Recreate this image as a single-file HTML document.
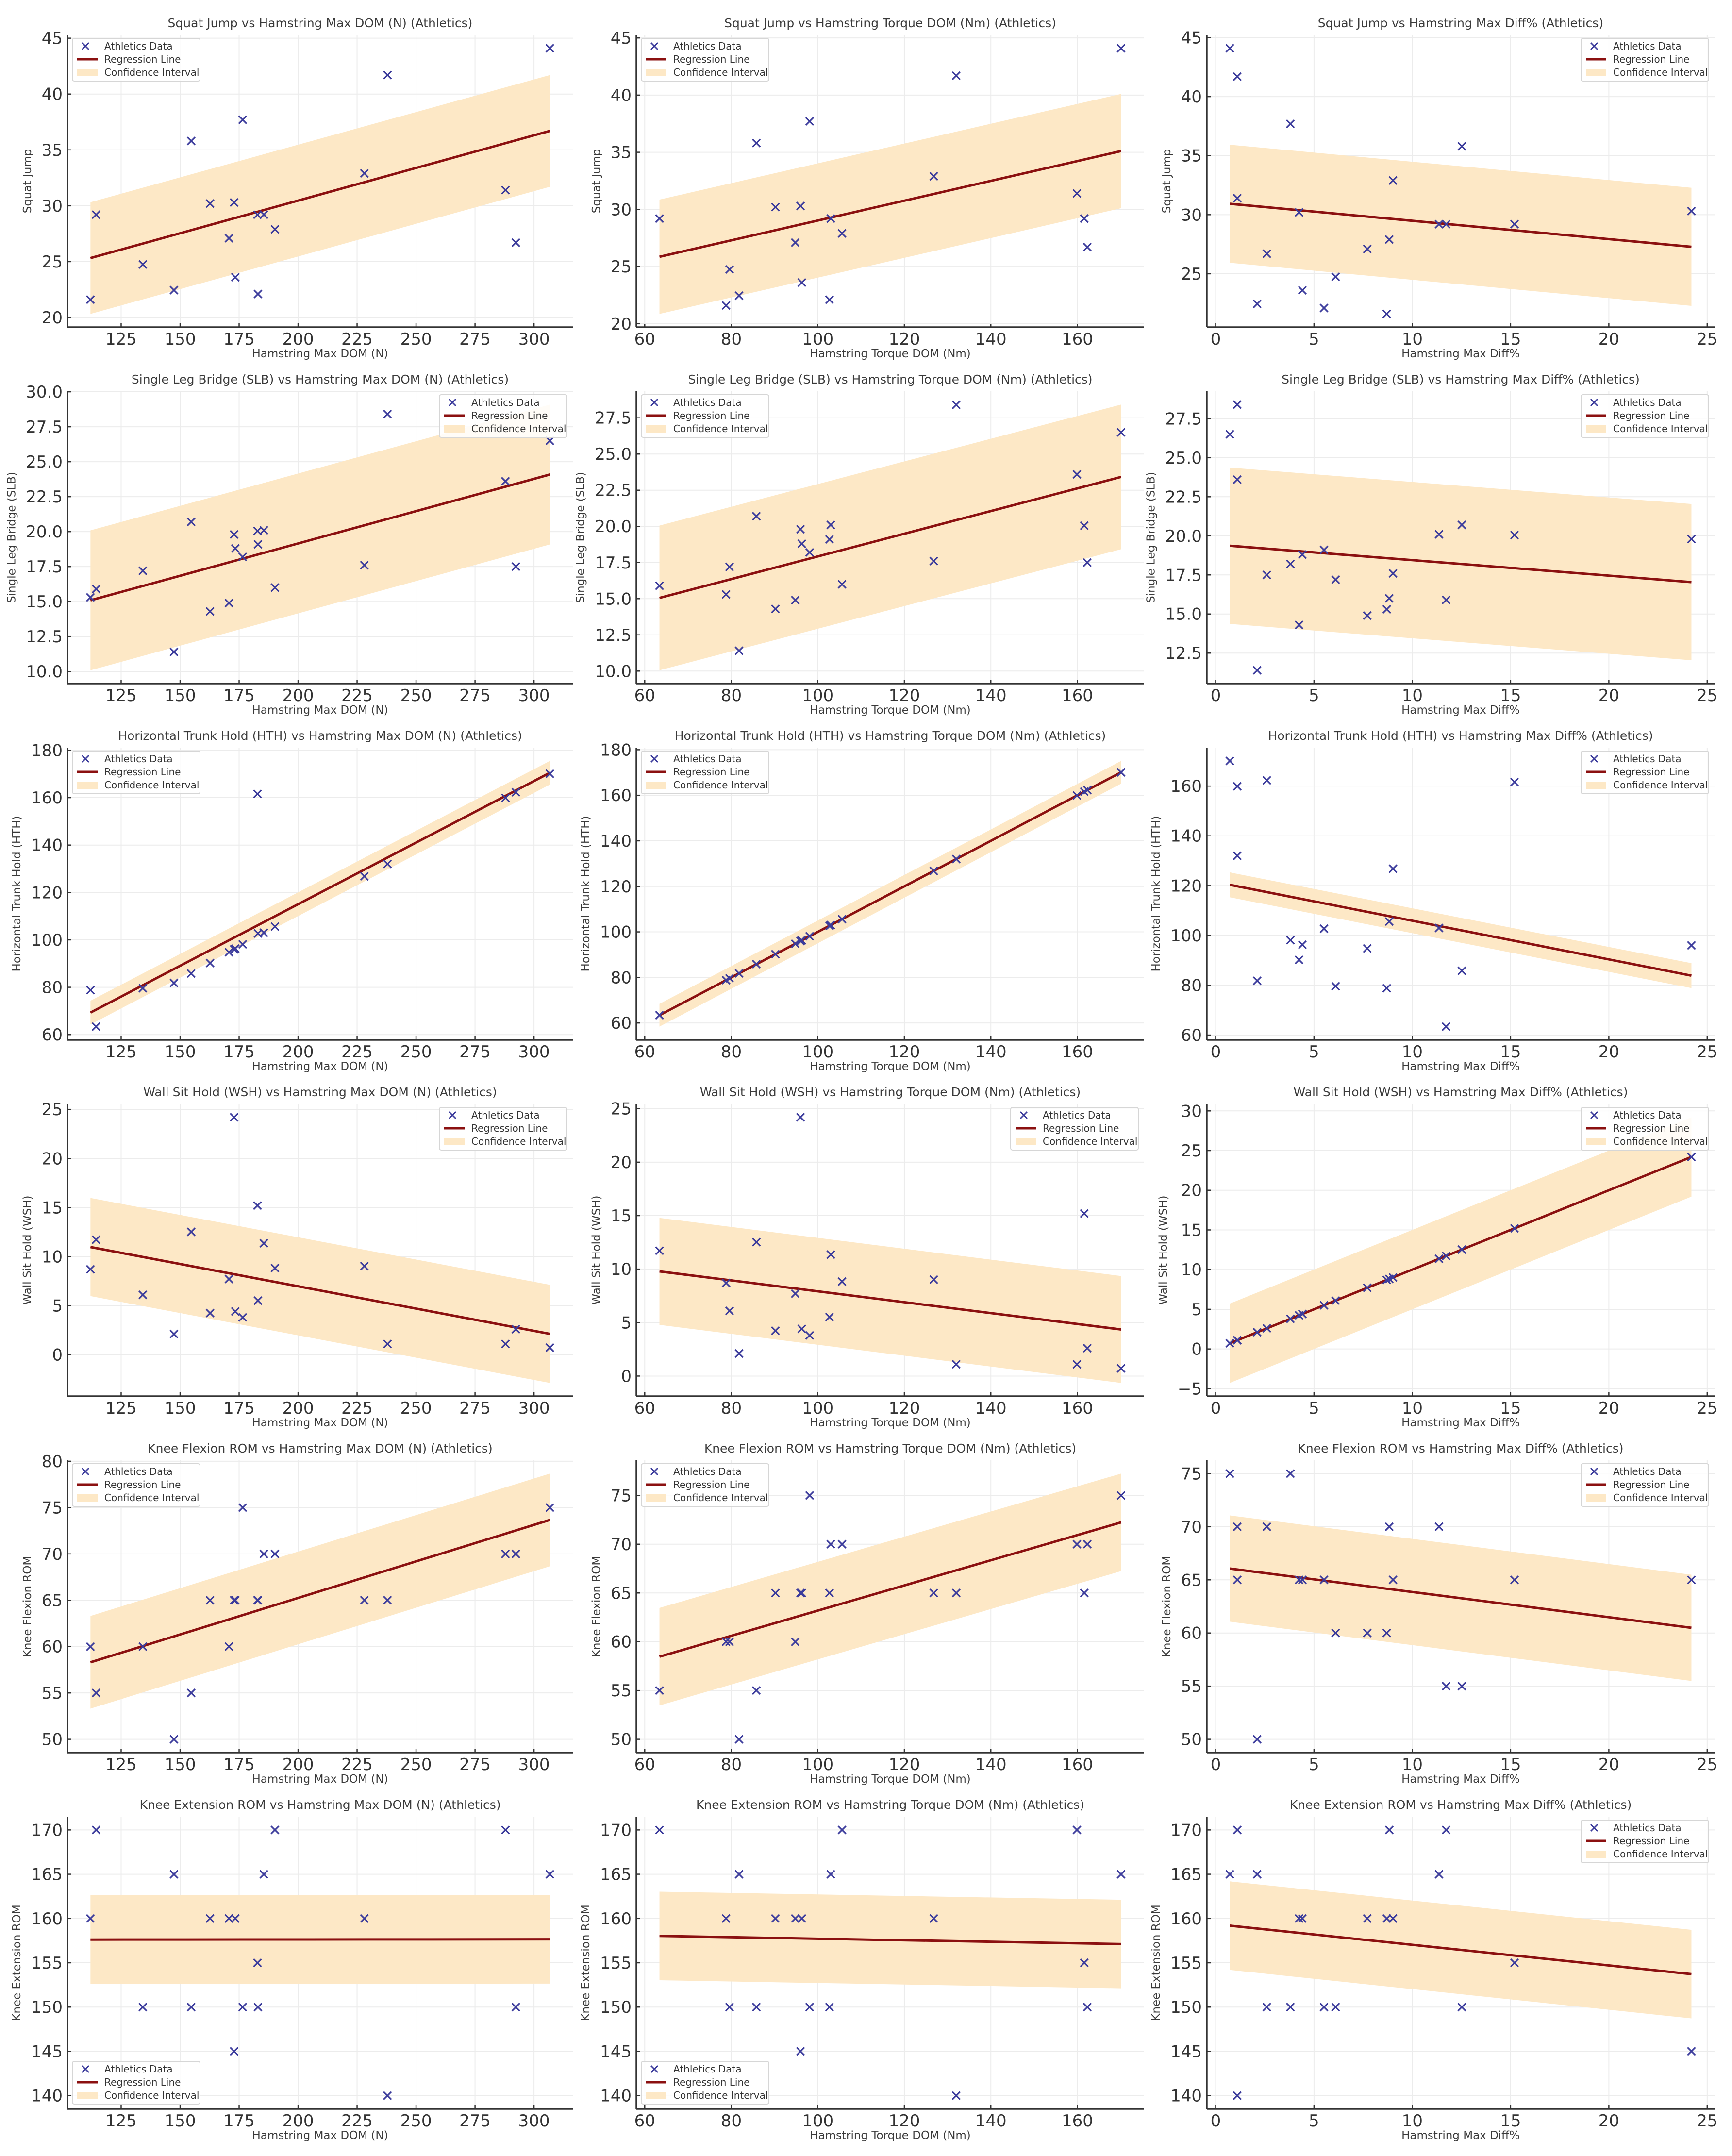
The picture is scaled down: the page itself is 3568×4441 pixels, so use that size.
<!DOCTYPE html>
<html><head><meta charset="utf-8"><title>Athletics regression grid</title>
<style>
html,body{margin:0;padding:0;background:#fff;}
svg{display:block;font-family:"DejaVu Sans","Liberation Sans",sans-serif;}
</style></head>
<body>
<svg id="fig" width="3568" height="4441" viewBox="0 0 3568 4441" xmlns="http://www.w3.org/2000/svg"></svg>
<script>
// ---- data (per athlete) ----
const hamMaxDom = [112.0,114.4,134.2,147.4,154.7,162.7,170.7,172.9,173.4,176.5,182.8,183.0,185.5,190.2,228.1,237.9,287.9,292.3,306.7];
const hamTorqueDom = [78.8,63.4,79.6,81.8,85.8,90.2,94.8,96.0,96.3,98.1,161.6,102.7,103.0,105.6,126.8,132.0,159.9,162.3,170.1];
const hamMaxDiff = [8.70,11.72,6.10,2.11,12.52,4.24,7.71,24.2,4.41,3.80,15.2,5.51,11.36,8.83,9.02,1.10,1.10,2.60,0.72];
const squatJump = [21.6,29.2,24.75,22.45,35.8,30.2,27.1,30.3,23.6,37.7,29.2,22.1,29.2,27.9,32.9,41.7,31.4,26.7,44.1];
const singleLegBridge = [15.3,15.9,17.2,11.4,20.7,14.3,14.9,19.8,18.8,18.2,20.05,19.1,20.1,16.0,17.6,28.4,23.6,17.5,26.5];
const trunkHold = [78.8,63.4,79.6,81.8,85.8,90.2,94.8,96.0,96.3,98.1,161.6,102.7,103.0,105.6,126.8,132.0,159.9,162.3,170.1];
const wallSit = [8.70,11.72,6.10,2.11,12.52,4.24,7.71,24.2,4.41,3.80,15.2,5.51,11.36,8.83,9.02,1.10,1.10,2.60,0.72];
const kneeFlexion = [60,55,60,50,55,65,60,65,65,75,65,65,70,70,65,65,70,70,75];
const kneeExtension = [160,170,150,165,150,160,160,145,160,150,155,150,165,170,160,140,170,150,165];

const xNames = ["Hamstring Max DOM (N)","Hamstring Torque DOM (Nm)","Hamstring Max Diff%"];
const xTitleNames = ["Hamstring Max DOM (N)","Hamstring Torque DOM (Nm)","Hamstring Max Diff% "];
const yNames = ["Squat Jump","Single Leg Bridge (SLB)","Horizontal Trunk Hold (HTH)","Wall Sit Hold (WSH)","Knee Flexion ROM","Knee Extension ROM"];
const xSteps = [25,20,5];
const ySteps = [5,2.5,20,5,5,5];
const ciHalf = [5,5,5,5,5,5];
const legendLocs = [
  ["ul","ul","ur"],["ur","ul","ur"],["ul","ul","ur"],
  ["ur","ur","ur"],["ul","ul","ur"],["ll","ll","ur"]];

const xData = [hamMaxDom, hamTorqueDom, hamMaxDiff];
const yData = [squatJump, singleLegBridge, trunkHold, wallSit, kneeFlexion, kneeExtension];

// ---- layout ----
const NS = "http://www.w3.org/2000/svg";
const svg = document.getElementById("fig");
const spineL = [139, 1311, 2486];
const spineR = [1180, 2357, 3532];
const rowPitch = 734;
function mk(tag, attrs, parent){
  const e = document.createElementNS(NS, tag);
  for (const k in attrs) e.setAttribute(k, attrs[k]);
  (parent||svg).appendChild(e);
  return e;
}
function fmt(v, step){
  const d = step % 1 !== 0 ? 1 : 0;
  let s = v.toFixed(d);
  if (v < 0) s = "\u2212" + Math.abs(v).toFixed(d);
  return s;
}
function textW(s, fs){
  let w = 0;
  for (const ch of s) w += (ch === "." ? 0.318 : ch === "\u2212" ? 0.838 : 0.636) * fs;
  return w;
}

for (let r = 0; r < 6; r++) {
  for (let c = 0; c < 3; c++) {
    const xs = xData[c], ys = yData[r];
    const g = mk("g", {});
    
    
    const L = spineL[c], R = spineR[c];
    const T = r * rowPitch + 72, B = r * rowPitch + 674;

    // regression
    const n = xs.length;
    let mx = 0, my = 0;
    for (let i = 0; i < n; i++) { mx += xs[i]; my += ys[i]; }
    mx /= n; my /= n;
    let sxy = 0, sxx = 0;
    for (let i = 0; i < n; i++) { sxy += (xs[i]-mx)*(ys[i]-my); sxx += (xs[i]-mx)*(xs[i]-mx); }
    const slope = sxy / sxx, icpt = my - slope * mx;
    const xmin = Math.min(...xs), xmax = Math.max(...xs);
    const h = ciHalf[r];
    const yAt = x => icpt + slope * x;

    // limits
    const xr = xmax - xmin;
    const x0 = xmin - 0.05 * xr, x1 = xmax + 0.05 * xr;
    const yv = ys.concat([yAt(xmin)+h, yAt(xmin)-h, yAt(xmax)+h, yAt(xmax)-h]);
    const ymn = Math.min(...yv), ymx = Math.max(...yv), yr = ymx - ymn;
    const y0 = ymn - 0.05 * yr, y1 = ymx + 0.05 * yr;
    const sx = v => L + (v - x0) / (x1 - x0) * (R - L);
    const sy = v => B - (v - y0) / (y1 - y0) * (B - T);

    // grid + ticks
    const xt = [], yt = [];
    for (let v = Math.ceil(x0 / xSteps[c] - 1e-9) * xSteps[c]; v <= x1 + 1e-9; v += xSteps[c]) xt.push(v);
    for (let v = Math.ceil(y0 / ySteps[r] - 1e-9) * ySteps[r]; v <= y1 + 1e-9; v += ySteps[r]) yt.push(v);
    let maxw = 0;
    xt.forEach(v => {
      const X = sx(v);
      const gl = mk("line", {x1:X, y1:T, x2:X, y2:B, stroke:"#ececec", "stroke-width":2}, g);
      
      
      mk("line", {x1:X, y1:B, x2:X, y2:B-8, stroke:"#333", "stroke-width":2.5}, g);
      const t = mk("text", {x:X, y:B+36, "font-size":34, fill:"#333", "text-anchor":"middle"}, g);
      t.textContent = fmt(v, xSteps[c]);
      
      
    });
    yt.forEach(v => {
      const Y = sy(v);
      const gl = mk("line", {x1:L, y1:Y, x2:R, y2:Y, stroke:"#ececec", "stroke-width":2}, g);
      
      
      mk("line", {x1:L, y1:Y, x2:L+8, y2:Y, stroke:"#333", "stroke-width":2.5}, g);
      const s = fmt(v, ySteps[r]);
      maxw = Math.max(maxw, textW(s, 34));
      const t = mk("text", {x:L-10, y:Y+12, "font-size":34, fill:"#333", "text-anchor":"end"}, g);
      t.textContent = s;
      
      
    });

    // band
    const band = mk("polygon", {points:
      sx(xmin)+","+sy(yAt(xmin)+h)+" "+sx(xmax)+","+sy(yAt(xmax)+h)+" "+
      sx(xmax)+","+sy(yAt(xmax)-h)+" "+sx(xmin)+","+sy(yAt(xmin)-h),
      fill:"#fde8c6"}, g);
    
    

    // regression line
    const rl = mk("line", {x1:sx(xmin), y1:sy(yAt(xmin)), x2:sx(xmax), y2:sy(yAt(xmax)), stroke:"#8b1010", "stroke-width":5}, g);
    
    

    // points
    for (let i = 0; i < n; i++) {
      const X = sx(xs[i]), Y = sy(ys[i]), a = 8;
      const p = mk("path", {d:"M"+(X-a)+" "+(Y-a)+"L"+(X+a)+" "+(Y+a)+"M"+(X-a)+" "+(Y+a)+"L"+(X+a)+" "+(Y-a), stroke:"#3c3c9c", "stroke-width":3.2, fill:"none"}, g);
      
      
    }

    // spines
    const sl = mk("line", {x1:L, y1:T, x2:L, y2:B, stroke:"#333", "stroke-width":3.5}, g);
    
    
    const sb = mk("line", {x1:L, y1:B, x2:R, y2:B, stroke:"#333", "stroke-width":3.5}, g);
    
    

    // title
    const tt = mk("text", {x:(L+R)/2, y:r*rowPitch+56, "font-size":25, fill:"#3a3a3a", "text-anchor":"middle"}, g);
    tt.textContent = yNames[r] + " vs " + xTitleNames[c] + " (Athletics)";
    
    

    // x label
    const xl = mk("text", {x:(L+R)/2, y:r*rowPitch+736, "font-size":23, fill:"#3a3a3a", "text-anchor":"middle"}, g);
    xl.textContent = xNames[c];
    
    

    // y label
    const yx = L - 10 - maxw - 22;
    const yl = mk("text", {x:0, y:0, "font-size":23, fill:"#3a3a3a", "text-anchor":"middle",
      transform:"translate("+yx+","+((T+B)/2)+") rotate(-90)"}, g);
    yl.textContent = yNames[r];
    
    

    // legend
    const loc = legendLocs[r][c];
    const lw = 263, lh = 88;
    const lx = loc === "ur" ? R - 12 - lw : L + 10;
    const ly = loc === "ll" ? B - 10 - lh : T + 7;
    const lg = mk("g", {}, g);
    
    
    mk("rect", {x:lx, y:ly, width:lw, height:lh, rx:4, fill:"#fff", "fill-opacity":0.85, stroke:"#d6d6d6", "stroke-width":2}, lg);
    const mxp = lx + 27, a = 7;
    const lm = mk("path", {d:"M"+(mxp-a)+" "+(ly+16-a)+"L"+(mxp+a)+" "+(ly+16+a)+"M"+(mxp-a)+" "+(ly+16+a)+"L"+(mxp+a)+" "+(ly+16-a), stroke:"#3c3c9c", "stroke-width":3, fill:"none"}, lg);
    
    
    const ll = mk("line", {x1:lx+10, y1:ly+43, x2:lx+52, y2:ly+43, stroke:"#8b1010", "stroke-width":5}, lg);
    
    
    const lp = mk("rect", {x:lx+10, y:ly+63, width:42, height:15, fill:"#fde8c6"}, lg);
    
    
    const labels = ["Athletics Data","Regression Line","Confidence Interval"];
    labels.forEach((s, k) => {
      const t = mk("text", {x:lx+66, y:ly+23+27*k, "font-size":20, fill:"#333"}, lg);
      t.textContent = s;
      
      
    });
  }
}
</script>
</body></html>
